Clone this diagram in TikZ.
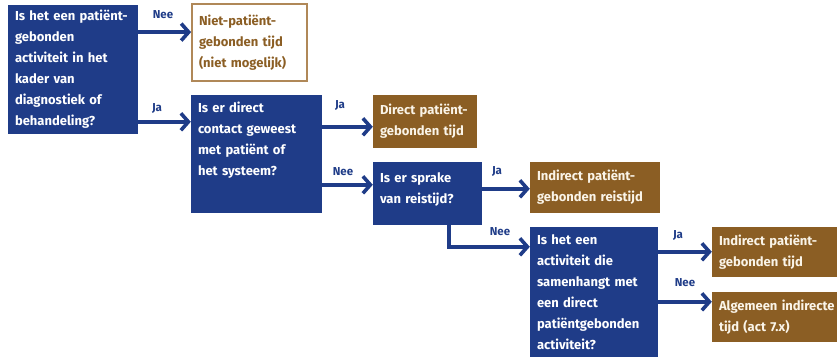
\documentclass[tikz,border=0pt]{standalone}
\usepackage{fontspec}
\setmainfont{Fira Sans}
\usetikzlibrary{arrows.meta}
\definecolor{nblue}{RGB}{31,60,136}
\definecolor{nbrown}{RGB}{139,94,36}
\definecolor{nbrownl}{RGB}{176,136,88}
\definecolor{ncream}{RGB}{250,244,232}
\begin{document}
\begin{tikzpicture}[x=1pt,y=-1pt,
  txt/.style={font=\fontsize{13}{21}\selectfont\bfseries},
  qbox/.style={txt,fill=nblue,text=white,inner xsep=7pt,inner ysep=0pt,align=left,anchor=center},
  abox/.style={txt,fill=nbrown,text=ncream,inner xsep=7pt,inner ysep=0pt,align=left,anchor=center},
  obox/.style={txt,draw=nbrownl,line width=1.8pt,fill=white,text=nbrown,inner xsep=7pt,inner ysep=0pt,align=left,anchor=center},
  arr/.style={draw=nblue,line width=3.6pt,-{Straight Barb[length=7.5pt,width=17pt]}},
  lab/.style={text=nblue,font=\fontsize{11.5}{13}\selectfont\bfseries,inner sep=0pt}
]
\useasboundingbox (0,0) rectangle (837,358);
\clip (0,0) rectangle (837,358);
\fill[white] (0,0) rectangle (837,358);

\node[qbox,text width=116pt,minimum width=130pt,minimum height=129pt] (q1) at (73,69.5)
  {Is het een patiënt-\\gebonden\\activiteit in het\\kader van\\diagnostiek of\\behandeling?};
\node[obox,text width=101pt,minimum width=115pt,minimum height=77pt] (niet) at (249.5,42.5)
  {Niet-patiënt-\\gebonden tijd\\(niet mogelijk)};
\node[qbox,text width=117pt,minimum width=131pt,minimum height=118pt] (q2) at (256.5,154)
  {Is er direct\\contact geweest\\met patiënt of\\het systeem?\\[10pt]\mbox{}};
\node[abox,text width=90pt,minimum width=104pt,minimum height=53pt] (direct) at (425,121.5)
  {Direct patiënt-\\gebonden tijd};
\node[qbox,text width=95pt,minimum width=109pt,minimum height=63pt] (q3) at (427.5,193.5)
  {Is er sprake\\van reistijd?\\[-11pt]\mbox{}};
\node[abox,text width=116pt,minimum width=130pt,minimum height=51pt] (reis) at (595,187.5)
  {Indirect patiënt-\\gebonden reistijd};
\node[qbox,text width=114pt,minimum width=128pt,minimum height=130pt] (q4) at (594,292)
  {Is het een\\activiteit die\\samenhangt met\\een direct\\patiëntgebonden\\activiteit?};
\node[abox,text width=124pt,minimum width=138pt,minimum height=50pt] (ipt) at (781,252)
  {Indirect patiënt-\\gebonden tijd};
\node[abox,text width=124pt,minimum width=138pt,minimum height=50pt] (alg) at (781,317)
  {Algemeen indirecte\\tijd (act 7.x)};

\draw[arr] (q1.north east |- niet.north west) ++(0,29) coordinate (a1) -- (a1 -| niet.west);
\draw[arr] ([yshift=-117pt]q1.north east) coordinate (a2) -- (a2 -| q2.west);
\draw[arr] ([yshift=-32pt]q2.north east) coordinate (a3) -- (a3 -| direct.west);
\draw[arr] ([yshift=-90pt]q2.north east) coordinate (a4) -- (a4 -| q3.west);
\draw[arr] ([yshift=-27pt]q3.north east) coordinate (a5) -- (a5 -| reis.west);
\draw[arr] ([xshift=76pt]q3.south west) |- ([yshift=-20pt]q4.north west);
\draw[arr] ([yshift=-25pt]q4.north east) coordinate (a7) -- (a7 -| ipt.west);
\draw[arr] ([yshift=-75pt]q4.north east) coordinate (a8) -- (a8 -| alg.west);

\node[lab] (l1) at (163,15) {Nee};
\node[lab] (l2) at (157,108) {Ja};
\node[lab] (l3) at (340,105) {Ja};
\node[lab] (l4) at (343,172) {Nee};
\node[lab] (l5) at (497,171) {Ja};
\node[lab] (l6) at (500,232) {Nee};
\node[lab] (l7) at (678,235) {Ja};
\node[lab] (l8) at (685,283) {Nee};
\end{tikzpicture}
\end{document}
